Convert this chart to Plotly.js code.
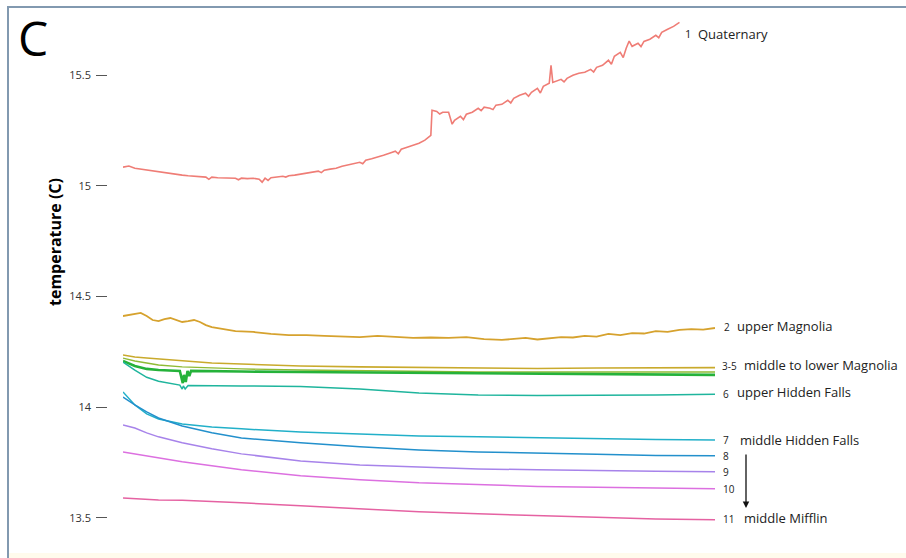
<!DOCTYPE html>
<html>
<head>
<meta charset="utf-8">
<script src="https://cdn.plot.ly/plotly-3.0.1.min.js"></script>
<style>
  html, body { margin: 0; padding: 0; background: #ffffff; }
  #wrap { position: relative; width: 906px; height: 558px; overflow: hidden; }
  #chart { position: absolute; left: 0; top: 0; width: 906px; height: 558px; }
  #frame { position: absolute; left: 7px; top: 6px; width: 905px; height: 560px;
           border-left: 2px solid #8299b0; border-top: 2px solid #8299b0; pointer-events: none; }
  #strip { position: absolute; left: 9px; top: 553px; width: 900px; height: 6px; background: #fffbec; }
</style>
</head>
<body>
<div id="wrap">
  <div id="chart"></div>
  <div id="strip"></div>
  <div id="frame"></div>
</div>
<script>
// ---------- data (x = relative time, 0..100; y = temperature in °C) ----------
const seriesNames = ["1 Quaternary", "2 upper Magnolia", "3 middle Magnolia", "4 middle Magnolia",
  "5 lower Magnolia", "6 upper Hidden Falls", "7 middle Hidden Falls", "8", "9", "10", "11 middle Mifflin"];

const x1 = [0,1,2,3,4,5,6,7,8,9,10,11,12,13,14,14.5,15,16,17,18,19,19.5,20,21,22,23,23.5,24,24.5,25,26,27,27.5,28,29,30,31,32,33,33.5,34,35,36,37,38,39,40,40.5,41,42,43,44,45,46,46.5,47,48,49,50,51,52,52.2,53,53.5,54,55,55.6,56,57,57.5,58,59,60,60.5,61,62,62.5,63,64,65,65.5,66,67,68,68.5,69,70,70.5,71,72,72.3,72.6,73,74,74.5,75,76,77,78,79,79.5,80,81,82,82.5,83,84,84.5,85,85.5,86,87,87.5,88,89,90,90.5,91,92,93,94];
const y1 = [15.085,15.090,15.080,15.076,15.071,15.067,15.062,15.060,15.055,15.053,15.049,15.046,15.044,15.042,15.040,15.030,15.040,15.037,15.037,15.035,15.035,15.028,15.035,15.033,15.035,15.030,15.017,15.035,15.025,15.037,15.040,15.044,15.040,15.046,15.049,15.053,15.058,15.062,15.067,15.060,15.071,15.076,15.080,15.089,15.096,15.103,15.107,15.100,15.116,15.123,15.130,15.139,15.148,15.157,15.145,15.166,15.175,15.184,15.193,15.207,15.229,15.342,15.337,15.325,15.333,15.333,15.279,15.297,15.315,15.300,15.324,15.333,15.351,15.340,15.356,15.351,15.345,15.365,15.369,15.387,15.375,15.396,15.410,15.419,15.405,15.423,15.441,15.420,15.450,15.464,15.545,15.468,15.473,15.482,15.470,15.486,15.500,15.509,15.514,15.527,15.515,15.536,15.545,15.568,15.550,15.586,15.604,15.580,15.622,15.655,15.631,15.645,15.630,15.653,15.663,15.681,15.670,15.694,15.708,15.721,15.739];

const x2 = [0,2,3,4,5,6,7,8,9,10,11,12,13,14,15,17,19,22,25,28,31,34,37,40,43,46,49,52,55,58,61,64,66,68,70,72,74,76,78,80,82,84,86,88,90,92,94,96,98,100];
const y2 = [14.412,14.421,14.426,14.412,14.394,14.389,14.398,14.403,14.394,14.385,14.389,14.394,14.385,14.371,14.362,14.353,14.344,14.340,14.331,14.326,14.326,14.322,14.319,14.317,14.322,14.317,14.313,14.315,14.313,14.317,14.308,14.304,14.308,14.313,14.306,14.313,14.317,14.315,14.322,14.319,14.331,14.326,14.335,14.333,14.344,14.340,14.349,14.353,14.351,14.358];

const xGrid = [0,2,4,6,10,15,20,30,40,50,60,70,80,90,100];
const y3 = [14.236,14.227,14.222,14.218,14.209,14.200,14.195,14.186,14.182,14.179,14.177,14.175,14.177,14.177,14.179];
const y4 = [14.222,14.209,14.200,14.191,14.182,14.177,14.173,14.168,14.164,14.161,14.159,14.159,14.159,14.159,14.159];

const x5 = [0,2,4,6,9.6,9.9,10.1,10.3,10.6,10.9,11.2,11.5,15,20,30,40,50,60,70,80,90,100];
const y5 = [14.209,14.186,14.173,14.168,14.164,14.123,14.109,14.146,14.114,14.164,14.141,14.164,14.164,14.161,14.159,14.157,14.155,14.152,14.150,14.148,14.146,14.146];

const x6 = [0,2,4,6,9.6,10.0,10.2,10.5,11,15,20,30,40,50,60,70,80,90,100];
const y6 = [14.204,14.167,14.135,14.117,14.100,14.082,14.096,14.082,14.098,14.096,14.096,14.094,14.082,14.064,14.055,14.053,14.053,14.055,14.058];

const y7 = [14.069,14.010,13.970,13.947,13.924,13.911,13.902,13.888,13.879,13.870,13.866,13.861,13.857,13.854,13.852];
const y8 = [14.046,14.010,13.979,13.951,13.915,13.884,13.861,13.839,13.821,13.807,13.798,13.791,13.787,13.782,13.780];
const y9 = [13.920,13.906,13.884,13.866,13.839,13.812,13.789,13.757,13.739,13.730,13.721,13.717,13.712,13.710,13.708];
const y10 = [13.798,13.789,13.780,13.771,13.753,13.735,13.717,13.690,13.672,13.658,13.649,13.642,13.638,13.633,13.631];
const y11 = [13.590,13.586,13.584,13.581,13.579,13.574,13.568,13.554,13.541,13.527,13.518,13.509,13.502,13.495,13.491];

const tickVals = [13.5, 14, 14.5, 15, 15.5];
const tickText = ["13.5", "14", "14.5", "15", "15.5"];

const labelNums = ["1", "2", "3-5", "6", "7", "8", "9", "10", "11"];
const labelNames = ["Quaternary", "upper Magnolia", "middle to lower Magnolia", "upper Hidden Falls", "middle Hidden Falls", "", "", "", "middle Mifflin"];

// ---------- styling ----------
const colors = ["#ef7d76", "#d6a22e", "#c9aa2c", "#8fbb35", "#25b23a", "#1fb59d", "#22b0c9", "#2390cc", "#a783ea", "#dc70e0", "#e562a2"];
const widths = [1.6, 1.8, 1.6, 1.4, 2.6, 1.5, 1.5, 1.5, 1.5, 1.5, 1.5];

const xs = [x1, x2, xGrid, xGrid, x5, x6, xGrid, xGrid, xGrid, xGrid, xGrid];
const ys = [y1, y2, y3, y4, y5, y6, y7, y8, y9, y10, y11];

const traces = ys.map((y, i) => ({
  type: "scatter", mode: "lines", x: xs[i], y: y, name: seriesNames[i],
  line: { color: colors[i], width: widths[i], shape: "linear" },
  hoverinfo: "skip"
}));

// ---------- layout ----------
const W = 906, H = 558, ML = 95, MR = 191, MT = 20, MB = 7;
const PW = W - ML - MR, PH = H - MT - MB;
const px = v => (v - ML) / PW;
const py = v => 1 - (v - MT) / PH;
const FONT = "Open Sans, sans-serif";

const numPos = [[683, 33], [722, 327], [720, 366], [721, 394], [721, 440], [721, 456], [721, 472], [721, 489], [721, 519]];
const namePos = [[696, 34], [735, 326], [742, 365], [735, 392], [738, 440], null, null, null, [742, 518]];

const annotations = [];
labelNums.forEach((t, i) => {
  annotations.push({ xref: "paper", yref: "paper", x: px(numPos[i][0]), y: py(numPos[i][1]),
    xanchor: "left", yanchor: "middle", showarrow: false, text: t,
    font: { family: FONT, size: i === 0 ? 11 : 10, color: "#222" } });
  if (namePos[i]) {
    annotations.push({ xref: "paper", yref: "paper", x: px(namePos[i][0]), y: py(namePos[i][1]),
      xanchor: "left", yanchor: "middle", showarrow: false, text: labelNames[i],
      font: { family: FONT, size: 13, color: "#222" } });
  }
});
// arrow
annotations.push({ xref: "paper", yref: "paper", x: px(746), y: py(508), ax: 0, ay: -55,
  axref: "pixel", ayref: "pixel", text: "", showarrow: true, arrowhead: 2, arrowsize: 1,
  arrowwidth: 1.3, arrowcolor: "#111", standoff: 0 });
// panel letter
annotations.push({ xref: "paper", yref: "paper", x: px(16), y: py(37), xanchor: "left", yanchor: "middle",
  showarrow: false, text: "C", font: { family: FONT, size: 48, color: "#000" } });
// axis title
annotations.push({ xref: "paper", yref: "paper", x: px(55), y: py(242), xanchor: "center", yanchor: "middle",
  textangle: -90, showarrow: false, text: "<b>temperature (C)</b>",
  font: { family: FONT, size: 16, color: "#000" } });

const layout = {
  width: W, height: H,
  margin: { l: ML, r: MR, t: MT, b: MB, pad: 0 },
  paper_bgcolor: "rgba(0,0,0,0)", plot_bgcolor: "rgba(0,0,0,0)",
  showlegend: false,
  xaxis: { domain: [(123 - ML) / PW, 1], range: [0, 100], visible: false, fixedrange: true },
  yaxis: { range: [13.35, 15.75], anchor: "free", position: 0, tickmode: "array",
    tickvals: tickVals, ticktext: tickText, ticks: "inside", ticklen: 11, tickwidth: 1,
    ticklabelstandoff: 4,
    tickcolor: "#555", showline: false, showgrid: false, zeroline: false,
    tickfont: { family: FONT, size: 11, color: "#333" }, fixedrange: true },
  annotations: annotations
};

Plotly.newPlot("chart", traces, layout, { displayModeBar: false, staticPlot: true });
</script>
</body>
</html>
